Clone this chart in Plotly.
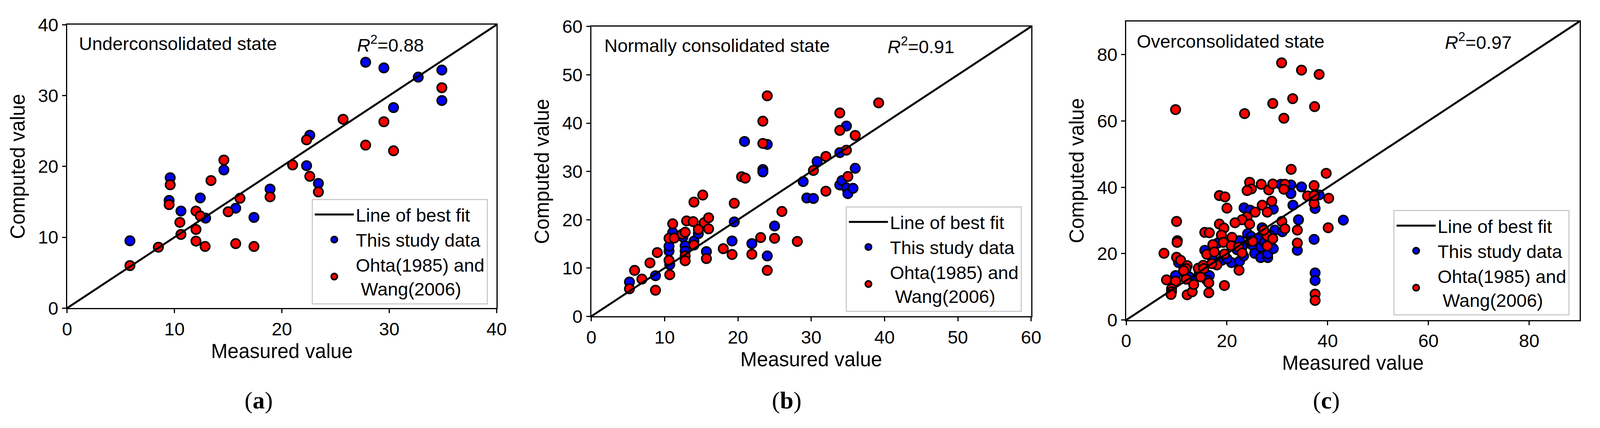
import plotly.graph_objects as go

# panel (a) underconsolidated state
a_blue_x = [5.85, 9.6, 9.5, 10.6, 12.4, 12.9, 14.6, 15.7, 17.4, 18.9, 22.3, 22.6, 23.4, 27.8, 29.5, 30.4, 32.7, 34.9, 34.9]
a_blue_y = [9.5, 18.4, 15.2, 13.7, 15.55, 12.7, 19.5, 14.1, 12.8, 16.8, 20.1, 24.4, 17.6, 34.7, 33.9, 28.3, 32.6, 33.6, 29.3]
a_red_x = [5.85, 8.5, 9.6, 9.5, 10.5, 10.6, 12.0, 12.0, 12.0, 12.4, 12.85, 13.4, 14.6, 15.0, 15.7, 16.1, 17.4,
           18.9, 21.0, 22.3, 22.6, 23.4, 25.7, 27.8, 29.5, 30.4, 34.9]
a_red_y = [6.0, 8.6, 17.4, 14.6, 12.1, 10.4, 13.7, 11.1, 9.45, 13.0, 8.7, 18.0, 20.9, 13.6, 9.1, 15.5, 8.7,
           15.7, 20.2, 23.75, 18.6, 16.4, 26.65, 23.0, 26.3, 22.2, 31.1]

# panel (b) normally consolidated state
b_blue_x = [5.2, 8.75, 10.7, 10.6, 10.6, 11.1, 12.5, 12.8, 12.8, 14.0, 14.6, 15.7, 19.2, 19.5, 20.9, 21.9, 23.4,
            23.4, 24.0, 24.0, 25.0, 28.9, 29.4, 30.3, 30.8, 33.9, 34.8, 33.9, 34.2, 34.8, 35.0, 35.7, 36.0]
b_blue_y = [7.1, 8.4, 10.7, 13.5, 14.5, 17.35, 16.4, 14.6, 13.5, 15.55, 17.1, 13.4, 15.6, 19.55, 36.2, 15.05, 30.4,
            29.9, 35.6, 12.5, 18.7, 27.9, 24.5, 24.4, 32.05, 33.9, 39.4, 27.2, 28.1, 26.6, 25.4, 26.5, 30.65]
b_red_x = [5.2, 5.9, 6.9, 8.0, 8.75, 9.0, 10.6, 10.6, 10.7, 11.1, 11.3, 12.4, 12.8, 12.8, 12.8, 13.0, 13.9, 14.0,
           14.0, 14.6, 15.2, 15.4, 15.7, 16.0, 16.0, 18.0, 19.2, 19.5, 20.5, 21.0, 21.9, 23.1, 23.4, 23.4, 24.0,
           24.0, 25.0, 26.0, 28.1, 30.3, 32.0, 32.0, 33.9, 33.9, 34.8, 35.0, 36.0, 39.2]
b_red_y = [5.7, 9.5, 7.7, 11.05, 5.4, 13.2, 16.15, 11.6, 8.6, 19.15, 16.2, 17.0, 17.4, 12.5, 11.5, 19.75, 19.6, 23.65,
           14.75, 18.0, 25.1, 19.4, 11.95, 20.4, 18.1, 14.0, 12.8, 23.4, 28.9, 28.6, 12.85, 16.3, 40.4, 35.8, 45.65,
           9.5, 16.15, 21.7, 15.5, 30.2, 33.1, 25.9, 42.1, 38.5, 34.4, 28.95, 37.45, 44.2]

# panel (c) overconsolidated state
c_blue_x = [9.8, 10.4, 13.3, 15.6, 16.5, 18.2, 20.9, 21.3, 22.0, 22.5, 22.5, 23.3, 23.4, 24.1, 24.6, 25.0, 25.5,
            24.8, 26.7, 26.7, 27.0, 28.1, 28.1, 29.2, 29.2, 29.5, 31.0, 30.7, 32.7, 32.7, 33.1, 33.97, 34.2, 34.8,
            37.3, 37.5, 37.5, 37.5, 38.3, 43.1, 11.5, 12.5, 14.5, 16.0, 17.0, 19.0, 20.0, 23.0, 26.0, 27.5, 28.5]
c_blue_y = [13.4, 17.3, 12.1, 21.0, 13.4, 23.2, 17.3, 22.9, 21.2, 23.9, 17.7, 19.3, 33.8, 26.0, 33.1, 22.6, 20.1,
            25.2, 22.0, 18.8, 27.8, 18.8, 19.9, 21.5, 33.4, 27.1, 26.6, 40.9, 40.7, 38.1, 34.6, 21.0, 30.2, 40.1,
            24.3, 33.6, 14.2, 11.9, 37.7, 30.1, 14.5, 13.0, 14.0, 12.0, 19.0, 18.0, 18.5, 22.0, 24.5, 23.5, 25.5]
c_red_x = [30.85, 34.8, 38.3, 33.05, 29.1, 37.4, 9.8, 23.5, 31.3, 32.75, 39.7,
           10.0, 10.15, 10.1, 7.5, 19.5, 40.1, 37.5, 37.5, 40.2, 37.3, 37.3, 36.0, 37.3, 33.97, 33.97,
           18.5, 19.6, 20.0, 24.5, 24.85, 24.0, 24.0, 23.0, 21.6, 24.5, 24.7, 18.5, 19.4, 15.6, 16.5, 18.9,
           21.0, 19.3, 17.2, 20.85, 22.3, 23.0, 19.5, 18.0, 17.0, 22.4, 16.0, 17.5, 10.0, 10.8, 12.1, 11.9,
           8.0, 9.8, 11.9, 9.0, 9.0, 8.9, 12.1, 13.1, 13.4, 14.8, 16.4, 16.4, 14.3, 15.3, 15.4, 11.4,
           26.8, 28.3, 29.1, 31.5, 31.3, 27.0, 28.9, 28.0, 25.6, 30.9, 31.5, 28.0, 29.1, 28.0, 27.3, 25.1]
c_red_y = [77.5, 75.3, 74.0, 66.7, 65.25, 64.3, 63.4, 62.2, 60.8, 45.4, 44.2,
           29.7, 23.9, 23.4, 20.1, 10.4, 27.8, 7.8, 5.9, 36.7, 40.5, 35.1, 37.4, 37.5, 27.1, 23.2,
           37.5, 37.1, 33.7, 41.5, 39.5, 39.0, 31.1, 30.2, 29.3, 28.9, 23.8, 28.9, 27.7, 26.4, 26.3, 25.6,
           24.9, 23.4, 22.7, 22.4, 22.0, 20.2, 19.9, 16.6, 17.0, 15.0, 19.8, 20.5, 18.9, 18.0, 16.4, 15.5,
           12.1, 11.7, 12.3, 9.4, 8.5, 7.7, 7.6, 8.5, 10.7, 13.0, 11.2, 8.2, 15.6, 16.5, 15.5, 14.9,
           40.9, 39.2, 41.0, 40.9, 39.4, 34.6, 35.8, 32.5, 32.5, 29.7, 27.5, 25.3, 24.5, 22.3, 27.1, 23.7]

states = ["Underconsolidated state", "Normally consolidated state", "Overconsolidated state"]
r2_values = ["0.88", "0.91", "0.97"]
axis_max = [40, 60, 90]
tick_steps = [10, 10, 20]
panel_letters = ["a", "b", "c"]

# reference picture size, used only to turn pixel positions into paper fractions
W, H = 4317, 1095
FONT = "Liberation Sans, Arial, sans-serif"

# plot area boxes in pixels (left, right, top, bottom)
boxes = [(169, 1339, 38, 800), (1597, 2795, 43, 822), (3054, 4289, 29, 832)]
legend_pos = [(1315, 790), (2770, 810), (4262, 820)]

panels = [(a_blue_x, a_blue_y, a_red_x, a_red_y),
          (b_blue_x, b_blue_y, b_red_x, b_red_y),
          (c_blue_x, c_blue_y, c_red_x, c_red_y)]

fig = go.Figure()
layout = {}
annotations = []

for i, (bx, by, rx, ry) in enumerate(panels):
    n = "" if i == 0 else str(i + 1)
    xa, ya = "x" + n, "y" + n
    leg = "legend" + n
    mk = dict(size=24, line=dict(color="black", width=4))

    fig.add_trace(go.Scatter(x=bx, y=by, mode="markers", name="This study data",
                             marker=dict(color="#0000FF", **mk), xaxis=xa, yaxis=ya,
                             legend=leg, legendrank=2))
    fig.add_trace(go.Scatter(x=rx, y=ry, mode="markers", name="Ohta(1985) and<br> Wang(2006)",
                             marker=dict(color="#FF0000", **mk), xaxis=xa, yaxis=ya,
                             legend=leg, legendrank=3))
    fig.add_trace(go.Scatter(x=[0, axis_max[i]], y=[0, axis_max[i]], mode="lines",
                             name="Line of best fit", line=dict(color="black", width=5),
                             xaxis=xa, yaxis=ya, legend=leg, legendrank=1))

    l, r, t, b = boxes[i]
    common = dict(range=[0, axis_max[i]], dtick=tick_steps[i], tick0=0, showgrid=False, zeroline=False,
                  showline=True, mirror=True, linecolor="black", linewidth=3,
                  ticks="outside", ticklen=10, tickwidth=3, tickcolor="black",
                  tickfont=dict(family=FONT, size=47, color="black"))
    layout["xaxis" + n] = dict(domain=[l / W, r / W], anchor=ya,
                               title=dict(text="Measured value", standoff=14,
                                          font=dict(family=FONT, size=51, color="black")),
                               **common)
    layout["yaxis" + n] = dict(domain=[1 - b / H, 1 - t / H], anchor=xa,
                               title=dict(text="Computed value", standoff=18,
                                          font=dict(family=FONT, size=51, color="black")),
                               **common)

    lx, ly = legend_pos[i]
    layout[leg] = dict(x=lx / W, y=1 - ly / H, xanchor="right", yanchor="bottom",
                       bgcolor="white", bordercolor="#CCCCCC", borderwidth=3,
                       font=dict(family=FONT, size=47, color="black"), itemwidth=100,
                       tracegroupgap=10)

annotations += [
    dict(text=states[0], x=199 / W, y=1 - 89 / H),
    dict(text="<i>R</i><sup>2</sup>=" + r2_values[0], x=957 / W, y=1 - 89 / H),
    dict(text=states[1], x=1630 / W, y=1 - 94 / H),
    dict(text="<i>R</i><sup>2</sup>=" + r2_values[1], x=2402 / W, y=1 - 94 / H),
    dict(text=states[2], x=3080 / W, y=1 - 82 / H),
    dict(text="<i>R</i><sup>2</sup>=" + r2_values[2], x=3920 / W, y=1 - 82 / H),
]
for a in annotations:
    a.update(xref="paper", yref="paper", xanchor="left", yanchor="middle", showarrow=False,
             font=dict(family=FONT, size=47, color="black"))

for cx, letter in zip([691, 2129, 3599], panel_letters):
    annotations.append(dict(text="(<b>" + letter + "</b>)", x=cx / W, y=1 - 1048 / H,
                            xref="paper", yref="paper", xanchor="center", yanchor="middle",
                            showarrow=False,
                            font=dict(family="Liberation Serif, DejaVu Serif, serif", size=62, color="black")))

fig.update_layout(autosize=True, margin=dict(l=0, r=0, t=0, b=0),
                  paper_bgcolor="white", plot_bgcolor="white",
                  annotations=annotations, **layout)

# let the figure fill the browser window exactly
fill_page = """
document.documentElement.style.height = '100%';
document.body.style.height = '100%';
document.body.style.margin = '0';
document.body.style.overflow = 'hidden';
var gd = document.getElementById('{plot_id}');
gd.parentElement.style.height = '100%';
Plotly.Plots.resize(gd);
"""

fig.write_html("out.html", default_width="100%", default_height="100%", post_script=fill_page,
               config={"displayModeBar": False})
